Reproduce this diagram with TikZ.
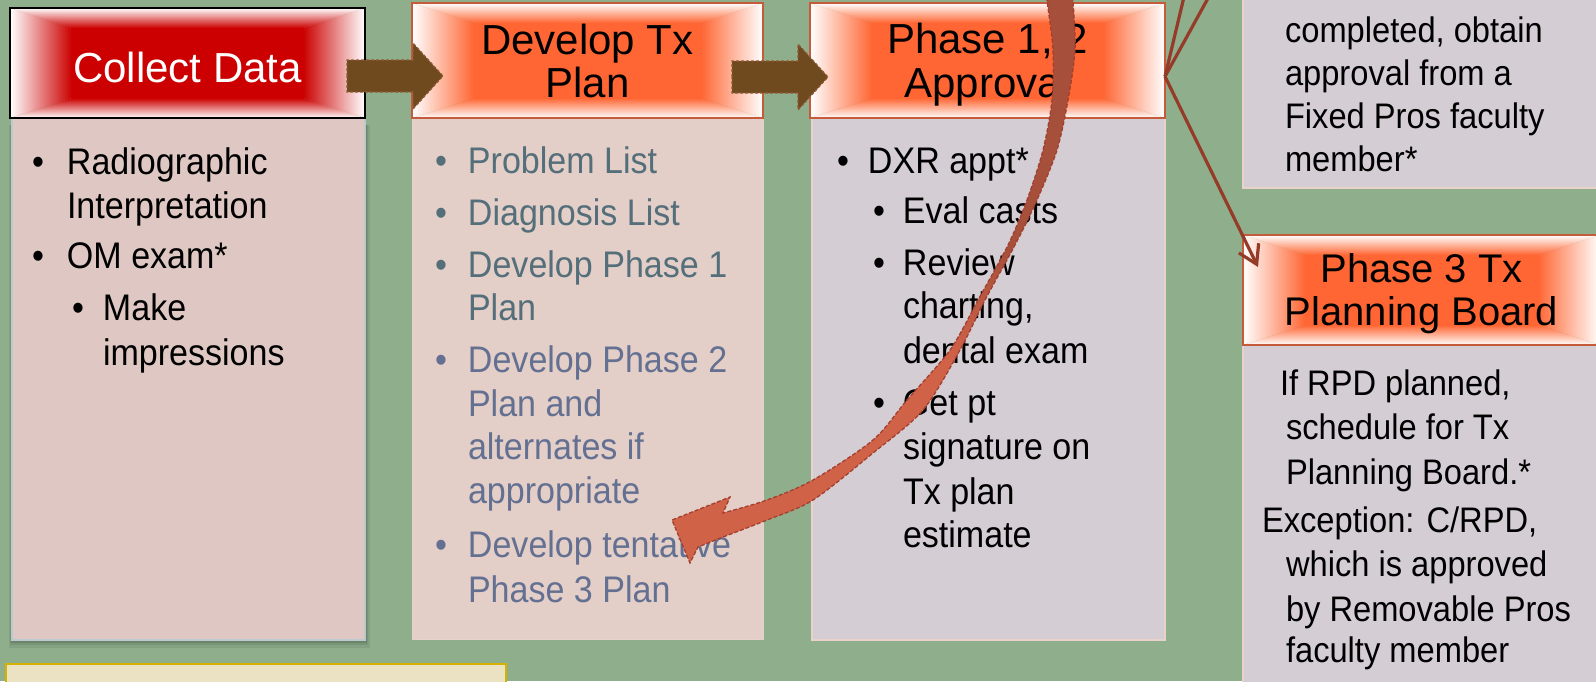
\documentclass[tikz,border=0pt]{standalone}
\usepackage{fontspec}
\setmainfont{Liberation Sans}
\newfontfamily\bodyf{Liberation Sans}[FakeStretch=0.92]
\usetikzlibrary{calc,arrows.meta}
\definecolor{bg}{HTML}{8FAF8C}
\definecolor{cdfill}{HTML}{DFC8C3}
\definecolor{devfill}{HTML}{E3CFC8}
\definecolor{phfill}{HTML}{D4CDD4}
\definecolor{cdedge}{HTML}{BCCAD0}
\definecolor{lightedge}{HTML}{E8D2CA}
\definecolor{hred}{HTML}{CC0000}
\definecolor{horange}{HTML}{FF6633}
\definecolor{hedge}{HTML}{C65B3C}
\definecolor{arrbrown}{HTML}{6F4A1E}
\definecolor{arredge}{HTML}{8F5A36}
\definecolor{connc}{HTML}{953B2A}
\definecolor{cdark}{HTML}{A6503C}
\definecolor{clight}{HTML}{D06248}
\definecolor{cedge}{HTML}{A33F2E}
\definecolor{devA}{HTML}{546E7A}
\definecolor{devB}{HTML}{647091}
\definecolor{yfill}{HTML}{EAE2C3}
\definecolor{yedge}{HTML}{D6B200}
\newcommand\bulw[1]{\makebox[#1][l]{•}}
\newcommand\hshade[4]{%
  \fill[#2] ($(#1.north west)+(#3,#4)$) rectangle ($(#1.south east)+(-#3,-#4)$);
  \shade[left color=white, right color=#2] (#1.north west) -- ($(#1.north west)+(#3,#4)$) -- ($(#1.south west)+(#3,-#4)$) -- (#1.south west) -- cycle;
  \shade[left color=#2, right color=white] (#1.north east) -- ($(#1.north east)+(-#3,#4)$) -- ($(#1.south east)+(-#3,-#4)$) -- (#1.south east) -- cycle;
  \shade[top color=white, bottom color=#2] (#1.north west) -- ($(#1.north west)+(#3,#4)$) -- ($(#1.north east)+(-#3,#4)$) -- (#1.north east) -- cycle;
  \shade[top color=#2, bottom color=white] (#1.south west) -- ($(#1.south west)+(#3,-#4)$) -- ($(#1.south east)+(-#3,-#4)$) -- (#1.south east) -- cycle;
}
\begin{document}
\begin{tikzpicture}[x=1pt,y=-1pt,
  hdr/.style={rectangle, inner sep=0pt, outer sep=0pt, draw=none},
  bodybox/.style={rectangle, inner sep=0pt, outer sep=0pt, anchor=north west},
  txt/.style={inner sep=0pt, outer sep=0pt, anchor=base west},
  htxt/.style={inner sep=0pt, outer sep=0pt, anchor=base},
  barrow/.style={fill=arrbrown, draw=arredge, line width=1.2pt, dash pattern=on 3pt off 2pt},
  connline/.style={draw=connc, line width=3.2pt},
  cout/.style={draw=cedge, line width=1.3pt, dash pattern=on 4pt off 2pt}]
\useasboundingbox (0,0) rectangle (1596,681);
\clip (0,0) rectangle (1596,681);
\fill[bg] (0,0) rectangle (1596,681);

% shadow of collect body
\fill[black, opacity=0.07] (9,125) rectangle (370,648);
\fill[black, opacity=0.08] (10,125) rectangle (368,645);
\fill[black, opacity=0.10] (11,125) rectangle (367,643);

% body boxes
\node[bodybox, fill=cdfill, draw=cdedge, line width=2.5pt, minimum width=353pt, minimum height=522pt] (cdb) at (12,118) {};
\node[bodybox, fill=devfill, draw=lightedge, line width=1pt, minimum width=351pt, minimum height=521pt] (devb) at (412,118) {};
\node[bodybox, fill=phfill, draw=lightedge, line width=1.2pt, minimum width=353pt, minimum height=522pt] (p12b) at (812,118) {};
\node[bodybox, fill=phfill, draw=lightedge, line width=1.2pt, minimum width=360pt, minimum height=198pt] (trb) at (1243,-10) {};
\node[bodybox, fill=phfill, draw=lightedge, line width=1.2pt, minimum width=360pt, minimum height=360pt] (p3b) at (1243,345) {};
\node[bodybox, fill=yfill, draw=yedge, line width=2pt, minimum width=500pt, minimum height=40pt] (yb) at (6,664) {};

% headers
\node[hdr, minimum width=355pt, minimum height=110pt] (cd) at (187.5,63) {};
\hshade{cd}{hred}{62}{20}
\draw[black, line width=1.5pt] (cd.north west) rectangle (cd.south east);
\node[hdr, minimum width=351pt, minimum height=115pt] (dev) at (587.5,60.5) {};
\hshade{dev}{horange}{62}{20}
\draw[hedge, line width=2pt] (dev.north west) rectangle (dev.south east);
\node[hdr, minimum width=355pt, minimum height=115pt] (p12) at (987.5,60.5) {};
\hshade{p12}{horange}{62}{20}
\draw[hedge, line width=2pt] (p12.north west) rectangle (p12.south east);
\node[hdr, minimum width=357pt, minimum height=110pt] (p3) at (1421.5,290) {};
\hshade{p3}{horange}{62}{20}
\draw[hedge, line width=2pt] (p3.north west) rectangle (p3.south east);

% header texts
\node[htxt, text=white, font=\fontsize{42}{48}\selectfont] (cdt) at (187.5,82) {Collect Data};
\node[htxt] (devt) at (587.5,54) {\parbox[t]{340pt}{\centering\fontsize{42}{43}\selectfont Develop Tx\\Plan}};
\node[htxt] (p12t) at (987.5,53) {\parbox[t]{340pt}{\centering\fontsize{42}{44}\selectfont Phase 1, 2\\Approval}};
\node[htxt] (p3t) at (1421.5,282) {\parbox[t]{350pt}{\centering\fontsize{40}{43}\selectfont Phase 3 Tx\\Planning Board}};

% body texts
\node[txt] (cdtext) at (32,174) {\parbox[t]{330pt}{\bodyf\fontsize{37}{44}\selectfont
\bulw{35pt}Radiographic\\%
\hspace*{35pt}Interpretation\\[6pt]%
\bulw{35pt}OM exam*\\[8pt]%
\hspace*{40pt}\bulw{31pt}Make\\[1pt]%
\hspace*{71pt}impressions}};

\node[txt, text=devA] (devtext) at (435,173) {\parbox[t]{330pt}{\bodyf\fontsize{37}{43.5}\selectfont
\bulw{33pt}Problem List\\[8.5pt]%
\bulw{33pt}Diagnosis List\\[8.5pt]%
\bulw{33pt}Develop Phase 1\\%
\hspace*{33pt}Plan\\[8.5pt]%
\color{devB}\bulw{33pt}Develop Phase 2\\%
\hspace*{33pt}Plan and\\%
\hspace*{33pt}alternates if\\%
\hspace*{33pt}appropriate\\[10.5pt]%
\bulw{33pt}Develop tentative\\[1.5pt]%
\hspace*{33pt}Phase 3 Plan}};

\node[txt] (p12text) at (837,173) {\parbox[t]{330pt}{\bodyf\fontsize{37}{43.5}\selectfont
\bulw{31pt}DXR appt*\\[6.5pt]%
\hspace*{36pt}\bulw{30pt}Eval casts\\[8.5pt]%
\hspace*{36pt}\bulw{30pt}Review\\%
\hspace*{66pt}charting,\\[1.5pt]%
\hspace*{66pt}dental exam\\[8.5pt]%
\hspace*{36pt}\bulw{30pt}Get pt\\%
\hspace*{66pt}signature on\\[1.5pt]%
\hspace*{66pt}Tx plan\\%
\hspace*{66pt}estimate}};

\node[txt] (trtext) at (1285,42) {\parbox[t]{310pt}{\bodyf\fontsize{35.5}{43.3}\selectfont
completed, obtain\\%
approval from a\\%
Fixed Pros faculty\\%
member*}};

\node[txt] (p3text) at (1262,395) {\parbox[t]{330pt}{\bodyf\fontsize{35.5}{44.5}\selectfont
\hspace*{18pt}If RPD planned,\\%
\hspace*{24pt}schedule for Tx\\%
\hspace*{24pt}Planning Board.*\\[3.5pt]%
Exception: C/RPD,\\%
\hspace*{24pt}which is approved\\%
\hspace*{24pt}by Removable Pros\\[-3pt]%
\hspace*{24pt}faculty member}};

% block arrows
\coordinate (a1s) at (347,76);
\draw[barrow] (a1s) -- ++(0,-16) -- ++(66,0) -- ++(0,-17) -- ++(30,33) -- ++(-30,33) -- ++(0,-17) -- ++(-66,0) -- cycle;
\coordinate (a2s) at (732,77);
\draw[barrow] (a2s) -- ++(0,-16) -- ++(66,0) -- ++(0,-17) -- ++(30,33) -- ++(-30,33) -- ++(0,-17) -- ++(-66,0) -- cycle;

% connectors
\coordinate (p12out) at ($(p12.east)+(0,16)$);
\coordinate (up1) at (1188,-20);
\coordinate (up2) at (1218,-20);
\coordinate (p3in) at ($(p3.north west)+(15,32)$);
\draw[connline] (p12out) -- (up1);
\draw[connline] (p12out) -- (up2);
\draw[connline, -{Straight Barb[length=18pt,width=22pt]}] (p12out) -- (p3in);

% curved arrow
\begin{scope}
\clip plot[smooth] coordinates {(1046,-15) (1047,0) (1053,50) (1052,100) (1043,150) (1027,200) (1008,245) (978,300) (950,350) (907,400) (873,440) (813,480) (767,500) (723,513)} -- (730,497) -- (672,520) -- (690,563) -- (698,547) -- plot[smooth] coordinates {(723,537) (767,520) (813,500) (873,453) (923,410) (960,350) (985,300) (1015,245) (1037,200) (1057,150) (1068,100) (1075,50) (1073,0) (1072,-15)} -- cycle;
\fill[cdark] (600,-30) rectangle (1200,250);
\shade[top color=cdark, bottom color=clight] (600,250) rectangle (1200,360);
\fill[clight] (600,360) rectangle (1200,600);
\end{scope}
\draw[cout] plot[smooth] coordinates {(1046,-15) (1047,0) (1053,50) (1052,100) (1043,150) (1027,200) (1008,245) (978,300) (950,350) (907,400) (873,440) (813,480) (767,500) (723,513)} -- (730,497) -- (672,520) -- (690,563) -- (698,547) -- plot[smooth] coordinates {(723,537) (767,520) (813,500) (873,453) (923,410) (960,350) (985,300) (1015,245) (1037,200) (1057,150) (1068,100) (1075,50) (1073,0) (1072,-15)};
\end{tikzpicture}
\end{document}
